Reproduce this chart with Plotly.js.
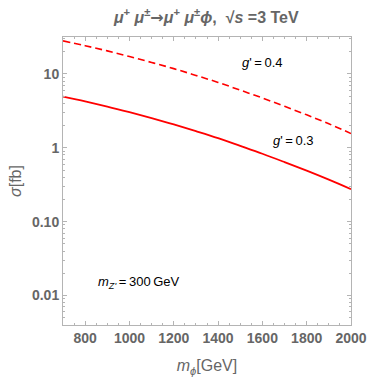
<!DOCTYPE html>
<html>
<head>
<meta charset="utf-8">
<script src="https://cdn.plot.ly/plotly-3.0.1.min.js"></script>
<style>
  body { margin: 0; background: #fff; }
  #plot { width: 382px; height: 377px; }
</style>
</head>
<body>
<div id="plot"></div>
<script>
// m_phi in GeV
var mPhi = [700, 800, 900, 1000, 1100, 1200, 1300, 1400, 1500, 1600, 1700, 1800, 1900, 2000];

// sigma [fb], g' = 0.4 (dashed) and g' = 0.3 (solid)
var sigma04 = [28.0, 24.1, 20.5, 17.2, 14.3, 11.8, 9.55, 7.68, 6.03, 4.72, 3.64, 2.79, 2.11, 1.56];
var sigma03 = [4.92, 4.24, 3.61, 3.03, 2.52, 2.07, 1.68, 1.35, 1.06, 0.83, 0.64, 0.49, 0.37, 0.275];

var yTickVals = [0.01, 0.1, 1, 10];
var yTickText = ["0.01", "0.10", "1", "10"];
var xTickVals = [800, 1000, 1200, 1400, 1600, 1800, 2000];
var xTickText = ["800", "1000", "1200", "1400", "1600", "1800", "2000"];

var gray = "#666666";
var frame = "#b4b4b4";

var trace1 = {
  x: mPhi,
  y: sigma04,
  type: "scatter",
  mode: "lines",
  line: { color: "#ff0000", width: 1.6, dash: "7px,4px", shape: "spline" },
  hoverinfo: "skip"
};

var trace2 = {
  x: mPhi,
  y: sigma03,
  type: "scatter",
  mode: "lines",
  line: { color: "#ff0000", width: 1.8, shape: "spline" },
  hoverinfo: "skip"
};

var layout = {
  width: 382,
  height: 377,
  showlegend: false,
  paper_bgcolor: "#ffffff",
  plot_bgcolor: "#ffffff",
  margin: { l: 63, r: 31, t: 37, b: 52 },
  font: { family: "Liberation Sans, Arial, sans-serif", color: gray },
  title: {
    text: "<b><i>μ</i><sup>+</sup> <i>μ</i><sup>±</sup><span style='font-family:DejaVu Sans'>→</span><i>μ</i><sup>+</sup> <i>μ</i><sup>±</sup><i>ϕ</i>,  √<i>s</i> =3 TeV</b>",
    font: { size: 16, color: gray },
    x: 0.54,
    xanchor: "center",
    y: 0.955,
    yanchor: "middle"
  },
  xaxis: {
    range: [700, 2000],
    tickvals: xTickVals,
    ticktext: xTickText.map(function(t) { return "<b>" + t + "</b>"; }),
    ticks: "inside",
    ticklen: 4,
    tickcolor: frame,
    showline: true,
    linecolor: frame,
    linewidth: 1,
    mirror: "allticks",
    showgrid: false,
    zeroline: false,
    tickfont: { size: 14, color: gray },
    minor: { dtick: 50, ticks: "inside", ticklen: 2, tickcolor: frame, showgrid: false },
    title: {
      text: "<i>m<sub>ϕ</sub></i>[GeV]",
      font: { size: 16, color: gray },
      standoff: 15
    }
  },
  yaxis: {
    type: "log",
    range: [-2.4, 1.5],
    tickvals: yTickVals,
    ticktext: yTickText.map(function(t) { return "<b>" + t + "</b>"; }),
    ticks: "inside",
    ticklen: 4,
    tickcolor: frame,
    showline: true,
    linecolor: frame,
    linewidth: 1,
    mirror: "allticks",
    showgrid: false,
    zeroline: false,
    tickfont: { size: 14, color: gray },
    minor: { dtick: "D1", ticks: "inside", ticklen: 2, tickcolor: frame, showgrid: false },
    title: {
      text: "<i>σ</i>[fb]",
      font: { size: 16, color: gray },
      standoff: 6
    }
  },
  annotations: [
    {
      x: 1500, y: Math.log10(14.5), xref: "x", yref: "y",
      text: "<i>g</i>'\u2009=\u20090.4", showarrow: false,
      xanchor: "left", yanchor: "middle",
      font: { size: 13, color: "#000000" }
    },
    {
      x: 1640, y: Math.log10(1.25), xref: "x", yref: "y",
      text: "<i>g</i>'\u2009=\u20090.3", showarrow: false,
      xanchor: "left", yanchor: "middle",
      font: { size: 13, color: "#000000" }
    },
    {
      x: 850, y: Math.log10(0.0148), xref: "x", yref: "y",
      text: "<i>m<sub>Z'</sub></i>\u2009=\u2009300\u2009GeV", showarrow: false,
      xanchor: "left", yanchor: "middle",
      font: { size: 13, color: "#000000" }
    }
  ]
};

Plotly.newPlot("plot", [trace1, trace2], layout, { displayModeBar: false, staticPlot: true });
</script>
</body>
</html>
